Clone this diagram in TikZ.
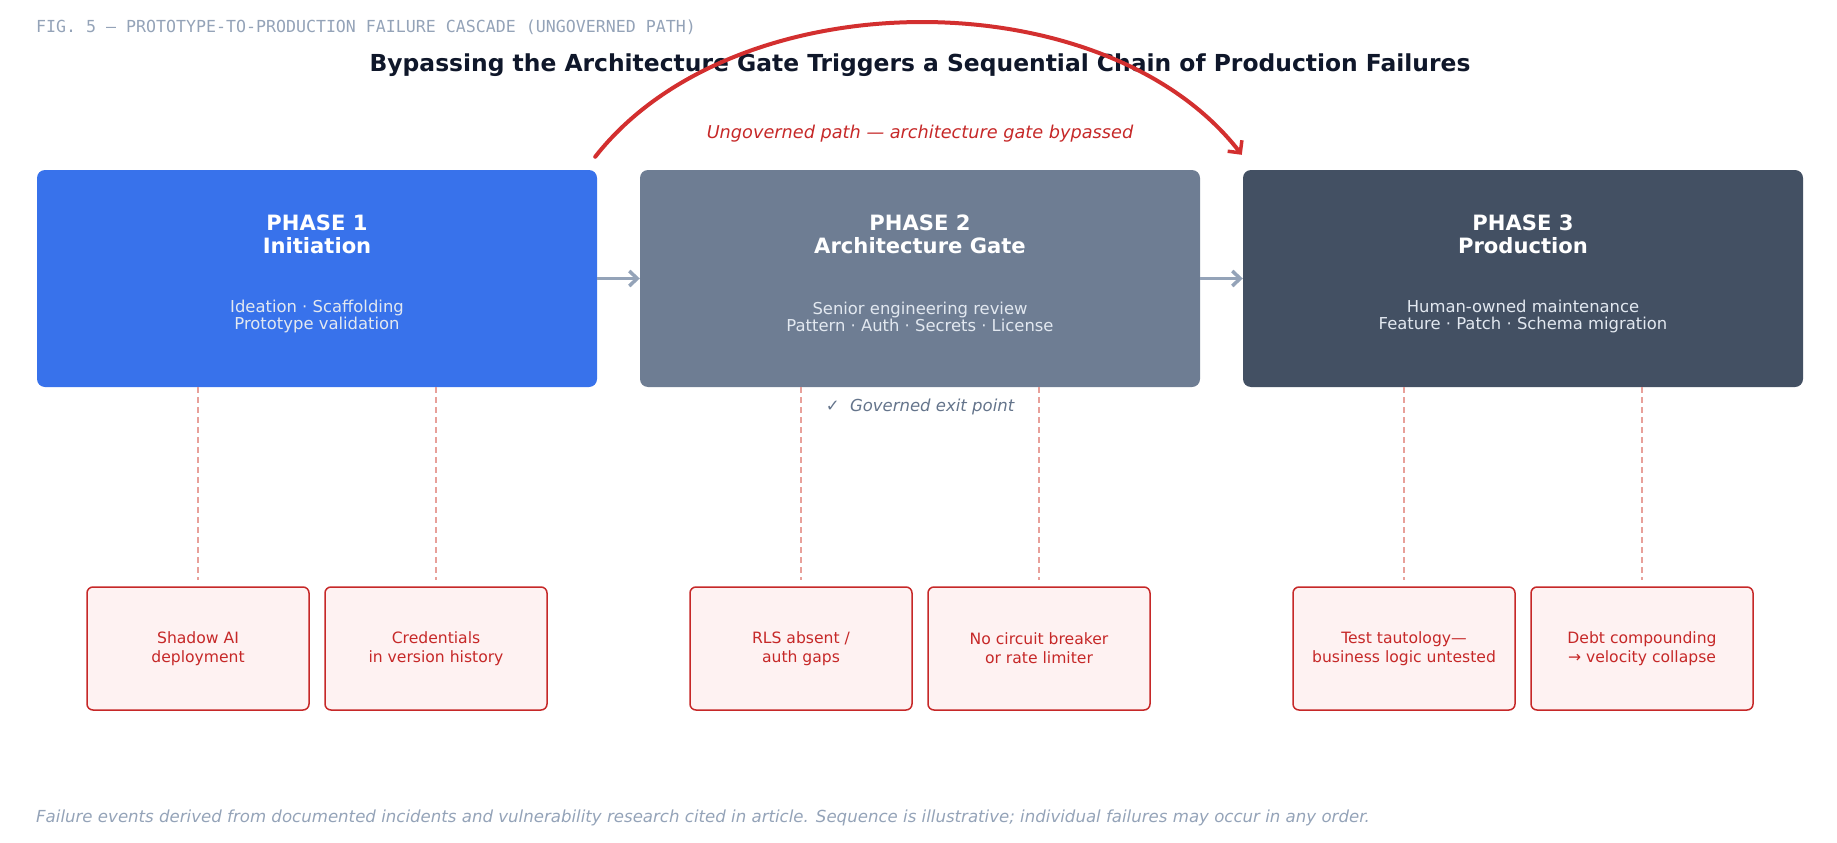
\documentclass[tikz,border=0pt]{standalone}
\usepackage{fontspec}
\setmainfont{DejaVu Sans}
\setmonofont{DejaVu Sans Mono}
\usetikzlibrary{arrows.meta,calc,positioning}

\definecolor{phaseA}{HTML}{3872EB}
\definecolor{phaseB}{HTML}{6E7D93}
\definecolor{phaseC}{HTML}{435063}
\definecolor{failred}{HTML}{C62828}
\definecolor{failfill}{HTML}{FEF2F2}
\definecolor{dashred}{HTML}{E8A09A}
\definecolor{slate}{HTML}{94A3B8}
\definecolor{ink}{HTML}{0F172A}
\definecolor{subtxt}{HTML}{E2E8F0}
\definecolor{exitgrey}{HTML}{64748B}
\definecolor{arcred}{HTML}{D32F2F}

\tikzset{
  phase/.style={rectangle, rounded corners=8pt, minimum width=560pt, minimum height=217pt, inner sep=0pt},
  phasetitle/.style={text=white, align=center, font=\bfseries\fontsize{21.1}{23.5}\selectfont},
  phasesub/.style={text=subtxt, align=center, font=\fontsize{16.4}{17}\selectfont},
  failbox/.style={rectangle, rounded corners=6pt, draw=failred, line width=1.5pt, fill=failfill,
    minimum width=222pt, minimum height=123pt, text=failred, align=center, font=\fontsize{15.6}{18.7}\selectfont},
  link/.style={dashred, line width=1.2pt, dash pattern=on 6pt off 4pt},
  flow/.style={slate, line width=3.8pt, -{Straight Barb[length=8pt, width=15pt, line width=3.5pt]}},
}

\begin{document}
\begin{tikzpicture}[x=1pt, y=-1pt]
\useasboundingbox (0,0) rectangle (1837,843);

% headings
\node[anchor=west, inner sep=0pt, text=slate, font=\ttfamily\fontsize{16.6}{20}\selectfont] (fig) at (36,27) {FIG. 5 — PROTOTYPE-TO-PRODUCTION FAILURE CASCADE (UNGOVERNED PATH)};
\node[text=ink, font=\bfseries\fontsize{23.4}{27}\selectfont] (title) at (920,65) {Bypassing the Architecture Gate Triggers a Sequential Chain of Production Failures};

% phases
\node[phase, fill=phaseA] (p1) at (317,278.5) {};
\node[phase, fill=phaseB] (p2) at (920,278.5) {};
\node[phase, fill=phaseC] (p3) at (1523,278.5) {};
\node[phasetitle] (p1t) at ([yshift=44pt]p1.center) {PHASE 1\\Initiation};
\node[phasesub] (p1s) at ([yshift=-38pt]p1.center) {Ideation · Scaffolding\\Prototype validation};
\node[phasetitle] (p2t) at ([yshift=44pt]p2.center) {PHASE 2\\Architecture Gate};
\node[phasesub] (p2s) at ([yshift=-38pt]p2.center) {Senior engineering review\\Pattern · Auth · Secrets · License};
\node[phasetitle] (p3t) at ([yshift=44pt]p3.center) {PHASE 3\\Production};
\node[phasesub] (p3s) at ([yshift=-38pt]p3.center) {Human-owned maintenance\\Feature · Patch · Schema migration};
\draw[flow] (p1) -- (p2);
\draw[flow] (p2) -- (p3);

% bypass arc
\coordinate (arcA) at ($(p1.north east)+(-2,-13)$);
\coordinate (arcB) at ($(p3.north west)+(-1,-15)$);
\draw[arcred, line width=4pt, line cap=round, -{Straight Barb[length=9pt, width=18pt, line width=3.5pt]}]
  (arcA) .. controls (735,-22) and (1105,-22) .. (arcB);
\node[text=failred, font=\itshape\fontsize{17.7}{20}\selectfont] (bypass) at (920,134) {Ungoverned path — architecture gate bypassed};
\node[text=exitgrey, font=\itshape\fontsize{16.5}{20}\selectfont] (exit) at (920,407) {✓\ \ Governed exit point};

% failures
\node[failbox] (f1) at (198,648.5) {Shadow AI\\deployment};
\node[failbox] (f2) at (436,648.5) {Credentials\\in version history};
\node[failbox] (f3) at (801,648.5) {RLS absent /\\auth gaps};
\node[failbox] (f4) at (1039,648.5) {No circuit breaker\\or rate limiter};
\node[failbox] (f5) at (1404,648.5) {Test tautology—\\business logic untested};
\node[failbox] (f6) at (1642,648.5) {Debt compounding\\→ velocity collapse};
\foreach \f/\p in {f1/p1, f2/p1, f3/p2, f4/p2, f5/p3, f6/p3}
  \draw[link] (\f.north |- \p.south) -- ([yshift=6pt]\f.north);

\node[anchor=west, inner sep=0pt, text=slate, font=\itshape\fontsize{16.6}{20}\selectfont] (foot) at (36,818) {Failure events derived from documented incidents and vulnerability research cited in article. Sequence is illustrative; individual failures may occur in any order.};
\end{tikzpicture}
\end{document}
